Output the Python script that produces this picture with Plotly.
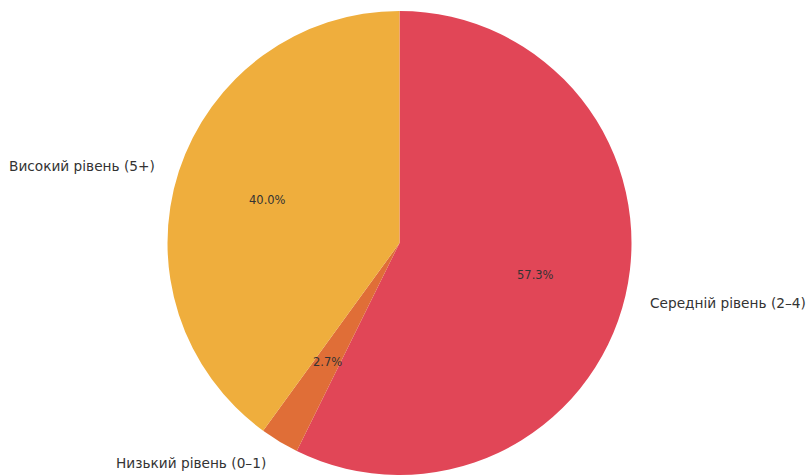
import math
import plotly.graph_objects as go

labels = ["Середній рівень (2–4)", "Низький рівень (0–1)", "Високий рівень (5+)"]
values = [57.3, 2.7, 40.0]
colors = ["#E14657", "#E06E37", "#EFAE3D"]

W, H = 807, 475
top = 11
r_px = (H - top) / 2
cx, cy = 399.5, top + r_px

fig = go.Figure(go.Pie(
    labels=labels, values=values, sort=False, direction="clockwise", rotation=0,
    marker=dict(colors=colors, line=dict(width=0)),
    textinfo="none", hoverinfo="label+percent", showlegend=False,
    domain=dict(x=[(cx - r_px) / W, (cx + r_px) / W], y=[0, 1 - top / H]),
))

total = sum(values)
annotations = []
cum = 0.0
font_family = "DejaVu Sans"
for lab, v in zip(labels, values):
    mid = (cum + v / 2) / total * 360.0
    cum += v
    theta = math.radians(90 - mid)
    # percentage inside
    px = cx + 0.6 * r_px * math.cos(theta)
    py = cy - 0.6 * r_px * math.sin(theta)
    annotations.append(dict(
        x=px / W, y=1 - py / H, xref="paper", yref="paper",
        text=f"{v / total * 100:.1f}%", showarrow=False,
        xanchor="center", yanchor="middle",
        font=dict(family=font_family, size=11.5, color="#333333"),
    ))
    # label outside
    lx = cx + 1.1 * r_px * math.cos(theta)
    ly = cy - 1.1 * r_px * math.sin(theta)
    annotations.append(dict(
        x=lx / W, y=1 - (ly + 1.5) / H, xref="paper", yref="paper",
        text=lab, showarrow=False,
        xanchor="left" if math.cos(theta) > 0 else "right", yanchor="middle",
        font=dict(family=font_family, size=13.7, color="#333333"),
    ))

fig.update_layout(
    width=W, height=H, margin=dict(l=0, r=0, t=0, b=0),
    paper_bgcolor="white", plot_bgcolor="white",
    annotations=annotations,
)

fig.write_html("out.html")
